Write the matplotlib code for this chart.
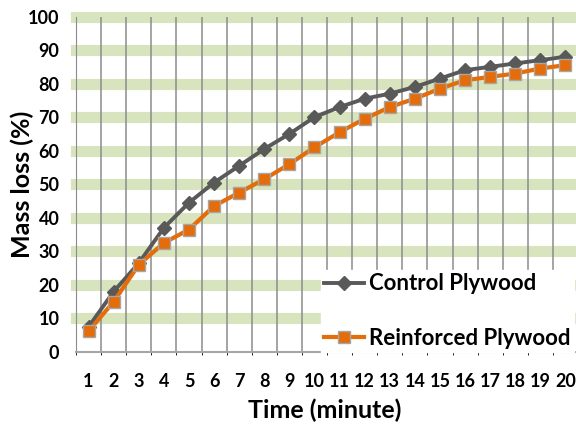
import matplotlib.pyplot as plt

plt.rcParams['font.family'] = ['Lato', 'DejaVu Sans']

# data
minutes = list(range(1, 21))
control = [7.5, 18, 26.5, 37, 44.5, 50.5, 55.5, 60.5, 65, 70,
           73, 75.5, 77, 79, 81.5, 84, 85, 86, 87, 88]
reinforced = [6.2, 15, 26, 32.5, 36.5, 43.5, 47.5, 51.5, 56, 61,
              65.5, 69.5, 73, 75.5, 78.5, 81, 82, 83, 84.5, 85.5]
y_ticks = [0, 10, 20, 30, 40, 50, 60, 70, 80, 90, 100]

W, H = 576, 424
fig = plt.figure(figsize=(W / 100, H / 100), dpi=100)
ax = fig.add_axes([76 / W, 1 - 352 / H, 502 / W, (352 - 16.5) / H])

ax.set_xlim(0.5, 20.5)
ax.set_ylim(0, 100)

# thick pale green horizontal gridlines (Excel style)
for y in y_ticks[1:]:
    ax.axhline(y, color='#D7E4BD', lw=8, zorder=0, clip_on=False)

# thin gray vertical lines between categories
ax.set_xticks([m - 0.5 for m in minutes] + [20.5], minor=True)
ax.grid(which='minor', axis='x', color='#8C8C8C', lw=1.1, zorder=1)
ax.set_axisbelow(True)

ax.plot(minutes, control, color='#595959', lw=2.8, marker='D', ms=7,
        mfc='#595959', mec='#595959', label='Control Plywood', zorder=3)
ax.plot(minutes, reinforced, color='#E46C0A', lw=3, marker='s', ms=8.5,
        mfc='#E46C0A', mec='#A6A6A6', mew=1, label='Reinforced Plywood', zorder=4)

ax.set_xticks(minutes)
ax.set_yticks(y_ticks)
ax.tick_params(axis='both', length=0, labelsize=13)
ax.tick_params(axis='x', pad=15)
ax.tick_params(axis='y', pad=12)
for lab in ax.get_xticklabels() + ax.get_yticklabels():
    lab.set_fontweight('bold')

for s in ['top', 'right']:
    ax.spines[s].set_visible(False)
ax.spines['left'].set_color('#8C8C8C')
ax.spines['bottom'].set_color('#A6A6A6')
ax.spines['bottom'].set_linewidth(1.5)

ax.set_xlabel('Time (minute)', fontsize=18, fontweight='bold')
ax.set_ylabel('Mass loss (%)', fontsize=18, fontweight='bold')
ax.xaxis.set_label_coords(0.496, (352 - 410) / 335.5, transform=ax.transAxes)
ax.yaxis.set_label_coords((22 - 76) / 502, 0.5, transform=ax.transAxes)
ax.xaxis.label.set_va('center')
ax.yaxis.label.set_va('center')

leg = ax.legend(loc='upper left', bbox_to_anchor=(321 / W, 1 - 270 / H),
                bbox_transform=fig.transFigure, frameon=True, fancybox=False,
                facecolor='white', edgecolor='white', framealpha=1,
                fontsize=16, handlelength=1.8, handletextpad=0.2,
                labelspacing=1.5, borderpad=0.15, borderaxespad=0)
leg.set_zorder(5)
for t in leg.get_texts():
    t.set_fontweight('bold')

fig.savefig('out.png', dpi=100)
